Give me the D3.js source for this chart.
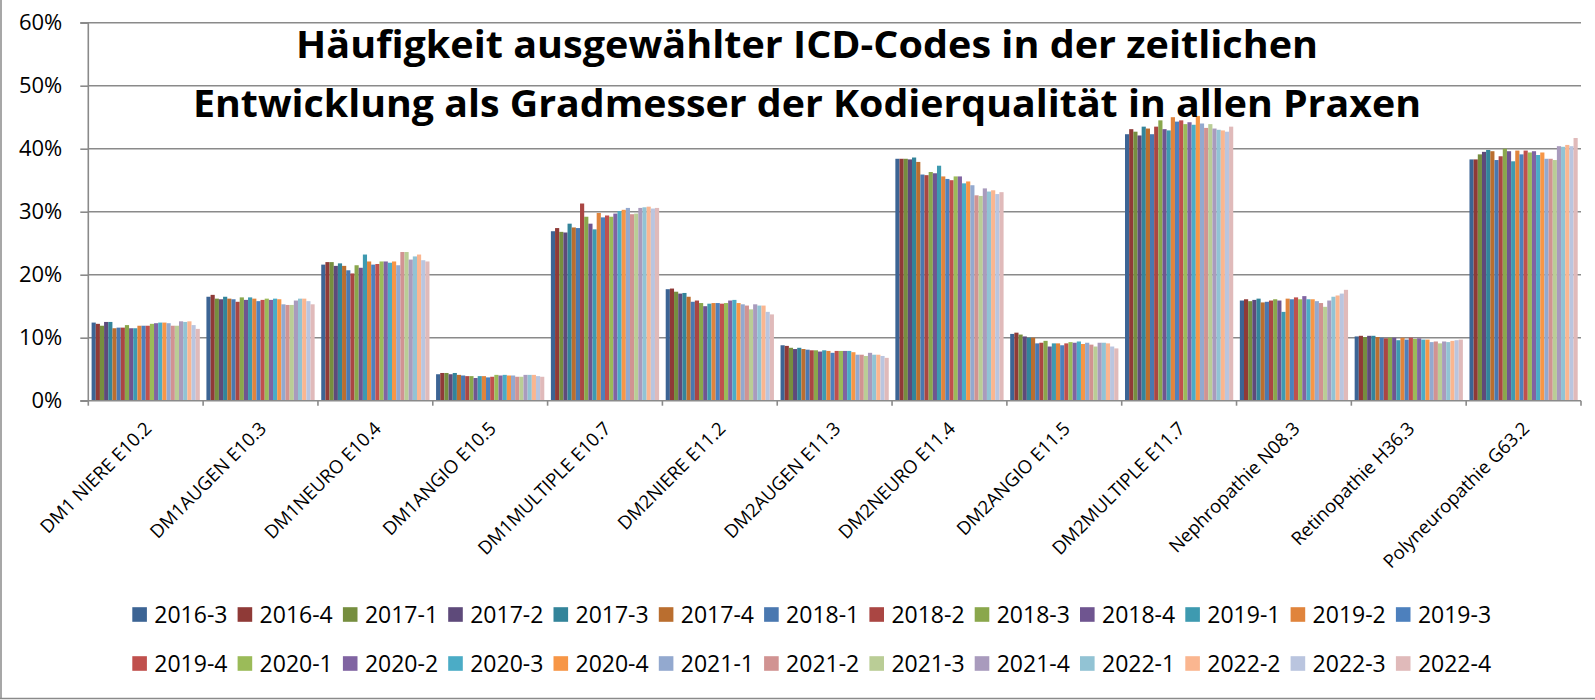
<!DOCTYPE html>
<html>
<head>
<meta charset="utf-8">
<script src="https://cdn.jsdelivr.net/npm/d3@7"></script>
<style>
  body { margin: 0; background: #fff; }
  text { font-family: "Open Sans", sans-serif; fill: #000; }
</style>
</head>
<body>
<svg width="1595" height="700"></svg>
<script>
// Kategorien (ICD-Codes)
const kategorien = [
  "DM1 NIERE E10.2", "DM1AUGEN E10.3", "DM1NEURO E10.4", "DM1ANGIO E10.5",
  "DM1MULTIPLE E10.7", "DM2NIERE E11.2", "DM2AUGEN E11.3", "DM2NEURO E11.4",
  "DM2ANGIO E11.5", "DM2MULTIPLE E11.7", "Nephropathie N08.3",
  "Retinopathie H36.3", "Polyneuropathie G63.2"
];

// Quartale (Serien)
const quartale = [
  "2016-3", "2016-4", "2017-1", "2017-2", "2017-3", "2017-4", "2018-1",
  "2018-2", "2018-3", "2018-4", "2019-1", "2019-2", "2019-3",
  "2019-4", "2020-1", "2020-2", "2020-3", "2020-4", "2021-1", "2021-2",
  "2021-3", "2021-4", "2022-1", "2022-2", "2022-3", "2022-4"
];

const farben = [
  "#3c6494", "#8f3a37", "#768e3f", "#5e4a7a", "#33849a", "#ba6e2f", "#4a78b0",
  "#aa4643", "#8aa74c", "#6f5590", "#3e9ab0", "#e0843c", "#4d80bd",
  "#c0504d", "#9bbb59", "#8064a2", "#4bacc6", "#f79646", "#93a9cf", "#d19392",
  "#bacd96", "#a99bbd", "#92c3d4", "#fab690", "#bac5df", "#e0baba"
];

// Anteile in % je Kategorie, Reihenfolge wie quartale
const niereE102 = [12.4,12.2,11.9,12.5,12.5,11.5,11.6,11.6,12.0,11.5,11.5,11.9,11.9,11.9,12.2,12.3,12.4,12.4,12.3,11.9,11.9,12.6,12.5,12.6,12.0,11.4];
const augenE103 = [16.5,16.8,16.2,16.1,16.5,16.2,16.1,15.7,16.4,16.0,16.4,16.2,15.8,16.0,16.2,16.0,16.2,16.1,15.3,15.2,15.2,15.9,16.2,16.2,15.8,15.3];
const neuroE104 = [21.6,22.0,22.0,21.4,21.8,21.4,20.7,20.2,21.5,21.1,23.2,22.1,21.6,21.7,22.1,22.1,21.9,22.1,21.5,23.6,23.6,22.4,22.9,23.2,22.3,22.1];
const angioE105 = [4.2,4.4,4.4,4.2,4.4,4.1,4.0,3.9,3.9,3.6,3.9,3.9,3.7,3.8,4.1,4.0,4.1,4.0,4.0,3.8,3.8,4.1,4.1,4.1,3.9,3.8];
const multipleE107 = [26.9,27.4,26.8,26.7,28.1,27.5,27.4,31.3,29.2,28.1,27.2,29.8,29.1,29.4,29.2,29.7,30.1,30.3,30.6,29.6,29.7,30.6,30.7,30.8,30.5,30.6];
const niereE112 = [17.7,17.8,17.3,17.0,17.1,16.5,15.7,15.9,15.5,15.0,15.4,15.5,15.5,15.4,15.5,15.9,16.0,15.5,15.3,15.1,14.5,15.3,15.1,15.1,14.1,13.7];
const augenE113 = [8.8,8.7,8.4,8.2,8.4,8.2,8.1,8.0,8.0,7.8,8.0,7.9,7.6,7.9,7.9,7.9,7.9,7.7,7.3,7.3,7.1,7.6,7.3,7.3,7.1,6.8];
const neuroE114 = [38.4,38.4,38.4,38.3,38.6,37.9,35.9,35.8,36.3,36.1,37.3,35.6,35.2,35.0,35.6,35.6,34.5,34.8,34.2,32.6,32.5,33.7,33.2,33.4,32.8,33.1];
const angioE115 = [10.6,10.8,10.5,10.2,10.0,10.0,9.1,9.2,9.5,8.6,9.1,9.1,8.8,9.1,9.3,9.2,9.4,9.0,9.2,8.9,8.6,9.2,9.2,9.1,8.6,8.3];
const multipleE117 = [42.3,43.1,42.7,42.1,43.5,43.2,42.3,43.5,44.5,43.1,42.9,45.0,44.3,44.5,43.9,44.2,43.8,45.2,44.0,43.3,43.9,43.2,43.0,42.9,42.7,43.5];
const nephroN083 = [15.9,16.1,15.8,16.0,16.2,15.6,15.7,15.9,16.1,15.9,14.1,16.2,16.1,16.4,16.1,16.6,16.1,16.1,15.8,15.5,14.9,15.9,16.5,16.7,17.0,17.6];
const retinoH363 = [10.2,10.3,10.1,10.3,10.3,10.1,10.0,9.9,10.0,10.0,9.6,10.0,9.7,10.0,9.8,9.9,9.7,9.7,9.3,9.4,9.1,9.4,9.3,9.5,9.6,9.7];
const polyG632 = [38.3,38.3,39.1,39.5,39.8,39.6,38.2,38.8,40.0,39.6,38.0,39.7,39.1,39.7,39.4,39.6,39.0,39.4,38.4,38.4,38.2,40.4,40.3,40.6,40.4,41.7];

const werte = [niereE102, augenE103, neuroE104, angioE105, multipleE107, niereE112,
  augenE113, neuroE114, angioE115, multipleE117, nephroN083, retinoH363, polyG632];

const yTicks = [0, 10, 20, 30, 40, 50, 60];

const titel = [
  "Häufigkeit ausgewählter ICD-Codes in der zeitlichen",
  "Entwicklung als Gradmesser der Kodierqualität in allen Praxen"
];

const svg = d3.select("svg");
const grau = "#8a8a8a";

const links = 88.3, rechts = 1581, oben = 22.7, unten = 400.7;

const xScale = d3.scaleBand()
  .domain(kategorien)
  .range([links, rechts])
  .padding(0);

const xInner = d3.scaleBand()
  .domain(quartale)
  .range([3.3, xScale.bandwidth() - 3.3]);

const yScale = d3.scaleLinear()
  .domain([0, 60])
  .range([unten, oben]);

const farbe = d3.scaleOrdinal().domain(quartale).range(farben);

// Rahmen (links und unten)
svg.append("line").attr("x1", 1).attr("x2", 1).attr("y1", 0).attr("y2", 699)
  .attr("stroke", grau).attr("stroke-width", 1.5);
svg.append("line").attr("x1", 0).attr("x2", 1595).attr("y1", 698.5).attr("y2", 698.5)
  .attr("stroke", grau).attr("stroke-width", 1.5);

// Gitterlinien
svg.append("g")
  .selectAll("line")
  .data(yTicks.filter(d => d > 0))
  .enter()
  .append("line")
  .attr("x1", links)
  .attr("x2", rechts)
  .attr("y1", d => yScale(d))
  .attr("y2", d => yScale(d))
  .attr("stroke", grau)
  .attr("stroke-width", 1.6);

// Balken
const gruppen = svg.append("g")
  .selectAll("g")
  .data(kategorien)
  .enter()
  .append("g")
  .attr("transform", d => `translate(${xScale(d)},0)`);

gruppen.selectAll("rect")
  .data((d, i) => werte[i].map((w, j) => ({ quartal: quartale[j], wert: w })))
  .enter()
  .append("rect")
  .attr("x", d => xInner(d.quartal))
  .attr("y", d => yScale(d.wert))
  .attr("width", xInner.bandwidth())
  .attr("height", d => yScale(0) - yScale(d.wert))
  .attr("fill", d => farbe(d.quartal));

// y-Achse
const yAxis = d3.axisLeft(yScale)
  .tickValues(yTicks)
  .tickFormat(d => d + "%")
  .tickSize(8)
  .tickPadding(18);

const yAchse = svg.append("g")
  .attr("transform", `translate(${links},0)`)
  .call(yAxis);
yAchse.selectAll("path, line").attr("stroke", grau).attr("stroke-width", 1.6);
yAchse.select(".domain").attr("d", `M-8,${oben}H0V${unten}H-8`);
yAchse.selectAll("text")
  .style("font-family", "'Open Sans', sans-serif")
  .style("font-size", "22px")
  .attr("fill", "#000");

// x-Achse
svg.append("line")
  .attr("x1", links).attr("x2", rechts)
  .attr("y1", unten).attr("y2", unten)
  .attr("stroke", grau).attr("stroke-width", 1.6);

svg.append("g")
  .selectAll("line")
  .data(kategorien.map(d => xScale(d)).concat([rechts]))
  .enter()
  .append("line")
  .attr("x1", d => d).attr("x2", d => d)
  .attr("y1", unten).attr("y2", unten + 5)
  .attr("stroke", grau).attr("stroke-width", 1.6);

svg.append("g")
  .selectAll("text")
  .data(kategorien)
  .enter()
  .append("text")
  .attr("transform", d => `translate(${xScale(d) + xScale.bandwidth() / 2 + 7},${unten + 29}) rotate(-45)`)
  .attr("text-anchor", "end")
  .style("font-size", "18.5px")
  .text(d => d);

// Titel
svg.append("g")
  .selectAll("text")
  .data(titel)
  .enter()
  .append("text")
  .attr("x", 807)
  .attr("y", (d, i) => i === 0 ? 58 : 117)
  .attr("text-anchor", "middle")
  .attr("textLength", (d, i) => i === 0 ? 1022 : 1228)
  .attr("lengthAdjust", "spacingAndGlyphs")
  .style("font-size", "37px")
  .style("font-weight", "bold")
  .text(d => d);

// Legende
const legende = svg.append("g")
  .selectAll("g")
  .data(quartale)
  .enter()
  .append("g")
  .attr("transform", (d, i) => `translate(${132.3 + (i % 13) * 105.3},${i < 13 ? 614.5 : 663.5})`);

legende.append("rect")
  .attr("x", 0)
  .attr("y", -7.3)
  .attr("width", 14.6)
  .attr("height", 14.6)
  .attr("fill", d => farbe(d));

legende.append("text")
  .attr("x", 22)
  .attr("dy", "0.36em")
  .style("font-size", "23px")
  .text(d => d);
</script>
</body>
</html>
